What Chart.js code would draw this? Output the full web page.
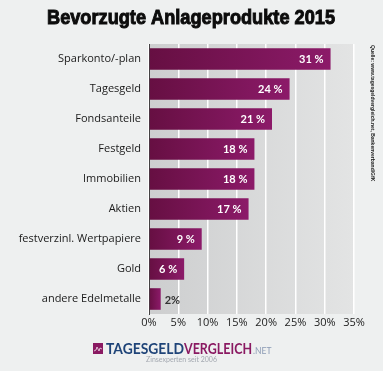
<!DOCTYPE html>
<html>
<head>
<meta charset="utf-8">
<style>
  html, body { margin: 0; padding: 0; background: #eef0f0; }
  canvas { display: block; }
</style>
<script src="https://cdn.jsdelivr.net/npm/chart.js@4"></script>
</head>
<body>
<canvas id="AnlageChart" width="383" height="371"></canvas>
<script>
var categories = ['Sparkonto/-plan', 'Tagesgeld', 'Fondsanteile', 'Festgeld', 'Immobilien', 'Aktien', 'festverzinl. Wertpapiere', 'Gold', 'andere Edelmetalle'];
var shares = [31, 24, 21, 18, 18, 17, 9, 6, 2];
var shareLabels = ['31 %', '24 %', '21 %', '18 %', '18 %', '17 %', '9 %', '6 %', '2%'];
var titleText = 'Bevorzugte Anlageprodukte 2015';
var sourceText = 'Quelle: www.tagesgeldvergleich.net, Bankenverband/GfK';

// Text squeezed to a given width, there is no Impact-like font installed
function fitText(ctx, text, x, y, width) {
  var natural = ctx.measureText(text).width;
  ctx.save();
  ctx.translate(x, y);
  ctx.scale(width / natural, 1);
  ctx.fillText(text, 0, 0);
  ctx.restore();
}

// Page and plot background
var backgroundPlugin = {
  id: 'background',
  beforeDraw: function (chart) {
    var ctx = chart.ctx;
    var area = chart.chartArea;
    ctx.save();
    ctx.fillStyle = '#eef0f0';
    ctx.fillRect(0, 0, chart.width, chart.height);
    var plotFill = ctx.createLinearGradient(area.left, 0, area.right, 0);
    plotFill.addColorStop(0, '#cdcecf');
    plotFill.addColorStop(1, '#e3e4e4');
    ctx.fillStyle = plotFill;
    ctx.fillRect(area.left, area.top, area.width, area.height);
    ctx.restore();
  },
};

// Title, value labels, source note and logo
var labelsPlugin = {
  id: 'labels',
  afterDraw: function (chart) {
    var ctx = chart.ctx;
    var bars = chart.getDatasetMeta(0).data;
    ctx.save();

    // Title, stroked to get the heavy look of the original
    ctx.textAlign = 'left';
    ctx.textBaseline = 'alphabetic';
    ctx.font = 'bold 21px "Liberation Sans"';
    ctx.fillStyle = '#0c0c0c';
    ctx.strokeStyle = '#0c0c0c';
    ctx.lineWidth = 1;
    var titleScale = 288 / ctx.measureText(titleText).width;
    ctx.save();
    ctx.translate(47, 24);
    ctx.scale(titleScale, 1);
    ctx.fillText(titleText, 0, 0);
    ctx.strokeText(titleText, 0, 0);
    ctx.restore();

    ctx.textBaseline = 'middle';
    bars.forEach(function (bar, i) {
      ctx.font = 'bold 11px Lato';
      if (shares[i] < 5) {
        ctx.fillStyle = '#333333';
        ctx.textAlign = 'left';
        ctx.fillText(shareLabels[i], bar.x + 4, bar.y + 1);
      } else {
        ctx.fillStyle = '#ffffff';
        ctx.textAlign = 'right';
        ctx.fillText(shareLabels[i], bar.x - 7, bar.y);
      }
    });

    // Source note, rotated along the right edge
    ctx.save();
    ctx.translate(372, 45);
    ctx.rotate(Math.PI / 2);
    ctx.fillStyle = '#222222';
    ctx.textAlign = 'left';
    ctx.font = 'bold 5px "Liberation Sans"';
    ctx.fillText(sourceText, 0, 0);
    ctx.restore();

    // Logo
    ctx.fillStyle = '#8a1a62';
    ctx.fillRect(93, 343, 10, 11);
    ctx.strokeStyle = '#ffffff';
    ctx.lineWidth = 0.7;
    ctx.beginPath();
    ctx.moveTo(94, 351);
    ctx.lineTo(96, 350);
    ctx.lineTo(97, 347);
    ctx.lineTo(99, 351);
    ctx.lineTo(100, 348);
    ctx.lineTo(102, 349);
    ctx.stroke();
    ctx.textAlign = 'left';
    ctx.font = 'bold 15px Lato';
    ctx.fillStyle = '#1f4478';
    fitText(ctx, 'TAGESGELD', 106, 349, 78);
    ctx.fillStyle = '#8a1a62';
    fitText(ctx, 'VERGLEICH', 184, 349, 68);
    ctx.font = '8.5px Lato';
    ctx.fillStyle = '#8b9bb5';
    ctx.fillText('.NET', 253, 351);
    ctx.font = '7px Lato';
    ctx.fillStyle = '#a3a8b0';
    ctx.fillText('Zinsexperten seit 2006', 146, 360);
    ctx.restore();
  },
};

var ctx = document.getElementById('AnlageChart').getContext('2d');
var anlageChart = new Chart(ctx, {
  type: 'bar',
  data: {
    labels: categories,
    datasets: [
      {
        data: shares,
        barPercentage: 0.72,
        categoryPercentage: 1,
        backgroundColor: function (context) {
          var scale = context.chart.scales.x;
          if (!scale || !context.chart.chartArea || typeof context.raw !== 'number') return '#7a1455';
          // one gradient per bar, dark at the axis
          var g = context.chart.ctx.createLinearGradient(scale.left, 0, scale.getPixelForValue(context.raw), 0);
          g.addColorStop(0, '#660f42');
          g.addColorStop(1, '#8c1a69');
          return g;
        },
      },
    ],
  },
  options: {
    indexAxis: 'y',
    responsive: false,
    animation: false,
    layout: { padding: { left: 0, right: 29, top: 44, bottom: 0 } },
    plugins: {
      legend: { display: false },
      tooltip: { enabled: false },
      title: { display: false },
    },
    scales: {
      x: {
        min: 0,
        max: 35,
        afterFit: function (scale) { scale.height = 57; },
        grid: { color: '#ffffff', lineWidth: 1.5, drawTicks: false },
        border: { display: false },
        ticks: {
          stepSize: 5,
          padding: 2,
          maxRotation: 0,
          color: '#222222',
          font: { family: '"Open Sans"', size: 11 },
          callback: function (value) { return value + '%'; },
        },
      },
      y: {
        afterFit: function (scale) { scale.width = 149; },
        grid: { display: false },
        border: { display: true, color: '#444444', width: 1 },
        ticks: {
          padding: 0,
          color: '#1a1a1a',
          font: { family: '"Open Sans"', size: 11 },
        },
      },
    },
  },
  plugins: [backgroundPlugin, labelsPlugin],
});
</script>
</body>
</html>
